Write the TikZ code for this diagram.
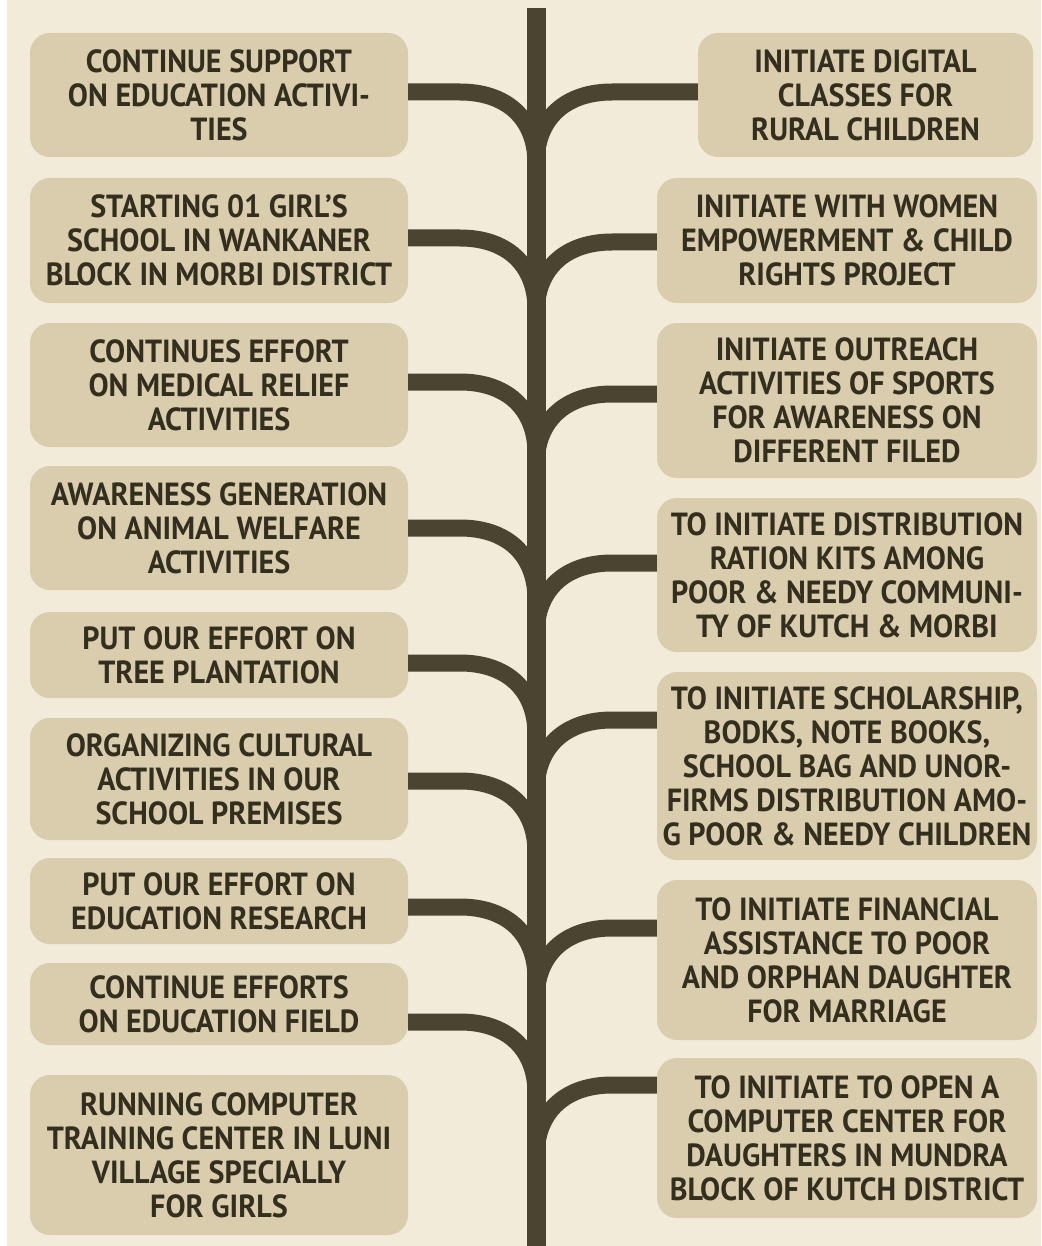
\documentclass[tikz,border=0pt]{standalone}
\usepackage{fontspec}
\setmainfont{PT Sans}[FakeStretch=0.94]
\definecolor{bgc}{HTML}{F3EBD9}
\definecolor{boxc}{HTML}{D9CDAE}
\definecolor{trunkc}{HTML}{4A4430}
\definecolor{txtc}{HTML}{332E1E}
\tikzset{
  itembox/.style={draw=none, fill=boxc, rounded corners=20pt, align=center,
    text=txtc, font=\fontsize{32}{34}\selectfont\bfseries, inner sep=0pt},
  branch/.style={draw=trunkc, line width=17pt},
  trunkline/.style={draw=trunkc, line width=19pt}
}
\newcommand\lbranch[2]{\draw[branch] (#1.east |- 0,#2) -- (460,#2) .. controls (505,#2) and (536,#2+25) .. (536,#2+72);}
\newcommand\rbranch[2]{\draw[branch] (#1.west |- 0,#2) -- (612,#2) .. controls (567,#2) and (536,#2+25) .. (536,#2+72);}
\begin{document}
\begin{tikzpicture}[x=1pt, y=-1pt]
\useasboundingbox (0,0) rectangle (1041,1246);
\fill[white] (0,0) rectangle (1041,1246);
\fill[bgc] (7,0) rectangle (1041,1246);
% left boxes
\node[itembox, minimum width=378pt, minimum height=124pt] (L1) at (219,95) {CONTINUE SUPPORT\\ON EDUCATION ACTIVI-\\TIES};
\node[itembox, minimum width=378pt, minimum height=125pt] (L2) at (219,240.5) {STARTING 01 GIRL’S\\SCHOOL IN WANKANER\\BLOCK IN MORBI DISTRICT};
\node[itembox, minimum width=378pt, minimum height=124pt] (L3) at (219,385) {CONTINUES EFFORT\\ON MEDICAL RELIEF\\ACTIVITIES};
\node[itembox, minimum width=378pt, minimum height=124pt] (L4) at (219,528) {AWARENESS GENERATION\\ON ANIMAL WELFARE\\ACTIVITIES};
\node[itembox, minimum width=378pt, minimum height=86pt] (L5) at (219,655) {PUT OUR EFFORT ON\\TREE PLANTATION};
\node[itembox, minimum width=378pt, minimum height=122pt] (L6) at (219,779) {ORGANIZING CULTURAL\\ACTIVITIES IN OUR\\SCHOOL PREMISES};
\node[itembox, minimum width=378pt, minimum height=86pt] (L7) at (219,901) {PUT OUR EFFORT ON\\EDUCATION RESEARCH};
\node[itembox, minimum width=378pt, minimum height=82pt] (L8) at (219,1004) {CONTINUE EFFORTS\\ON EDUCATION FIELD};
\node[itembox, minimum width=378pt, minimum height=160pt] (L9) at (219,1155) {RUNNING COMPUTER\\TRAINING CENTER IN LUNI\\VILLAGE SPECIALLY\\FOR GIRLS};
% right boxes
\node[itembox, minimum width=335pt, minimum height=124pt] (R1) at (865.5,95) {INITIATE DIGITAL\\CLASSES FOR\\RURAL CHILDREN};
\node[itembox, minimum width=380pt, minimum height=125pt] (R2) at (847,240.5) {INITIATE WITH WOMEN\\EMPOWERMENT \& CHILD\\RIGHTS PROJECT};
\node[itembox, minimum width=380pt, minimum height=155pt] (R3) at (847,400.5) {INITIATE OUTREACH\\ACTIVITIES OF SPORTS\\FOR AWARENESS ON\\DIFFERENT FILED};
\node[itembox, minimum width=380pt, minimum height=154pt] (R4) at (847,575) {TO INITIATE DISTRIBUTION\\RATION KITS AMONG\\POOR \& NEEDY COMMUNI-\\TY OF KUTCH \& MORBI};
\node[itembox, minimum width=380pt, minimum height=188pt] (R5) at (847,766) {TO INITIATE SCHOLARSHIP,\\BODKS, NOTE BOOKS,\\SCHOOL BAG AND UNOR-\\FIRMS DISTRIBUTION AMO-\\G POOR \& NEEDY CHILDREN};
\node[itembox, minimum width=380pt, minimum height=160pt] (R6) at (847,960) {TO INITIATE FINANCIAL\\ASSISTANCE TO POOR\\AND ORPHAN DAUGHTER\\FOR MARRIAGE};
\node[itembox, minimum width=380pt, minimum height=160pt] (R7) at (847,1138) {TO INITIATE TO OPEN A\\COMPUTER CENTER FOR\\DAUGHTERS IN MUNDRA\\BLOCK OF KUTCH DISTRICT};
% trunk
\coordinate (ttop) at (536.5,8);
\coordinate (tbot) at (536.5,1246);
\draw[trunkline] (ttop) -- (tbot);
% branches
\lbranch{L1}{92}
\lbranch{L2}{238}
\lbranch{L3}{382}
\lbranch{L4}{528}
\lbranch{L5}{663}
\lbranch{L6}{781}
\lbranch{L7}{907}
\lbranch{L8}{1022}
\rbranch{R1}{92}
\rbranch{R2}{242}
\rbranch{R3}{394}
\rbranch{R4}{563}
\rbranch{R5}{720}
\rbranch{R6}{928}
\rbranch{R7}{1085}
\end{tikzpicture}
\end{document}
